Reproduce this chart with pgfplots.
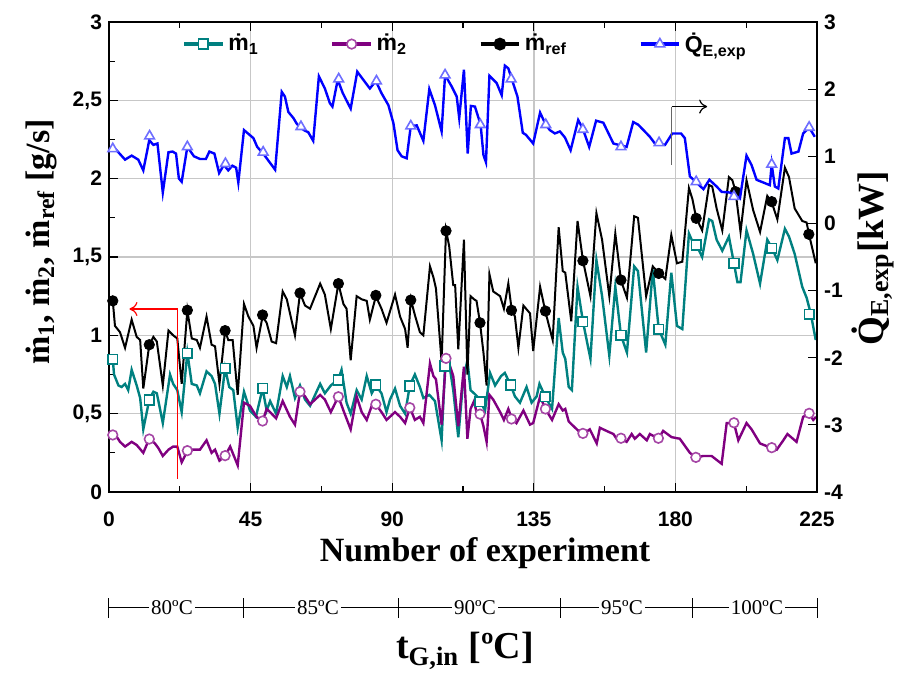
\documentclass[border=0pt]{standalone}
\usepackage{fontspec}
\setmainfont{Liberation Serif}
\setsansfont{Liberation Sans}
\usepackage{pgfplots}
\pgfplotsset{compat=1.18}
\usetikzlibrary{arrows.meta}
\definecolor{cteal}{RGB}{0,128,128}
\definecolor{cpurple}{RGB}{128,0,128}
\definecolor{cpurpleedge}{RGB}{165,70,165}
\definecolor{cblue}{RGB}{0,0,255}
\definecolor{cblueedge}{RGB}{110,110,255}
\begin{document}
\begin{tikzpicture}
\begin{axis}[
  at={(0,0)}, anchor=south west,
  scale only axis, width=354pt, height=235pt,
  xmin=0, xmax=225, ymin=0, ymax=3,
  xtick={0,45,90,135,180,225}, minor x tick num=1,
  ytick={0,0.5,1,1.5,2,2.5,3}, minor y tick num=1,
  ytick pos=left,
  grid=major, major grid style={draw=black!22, line width=0.7pt},
  axis line style={line width=0.8pt},
  tick style={black, line width=0.6pt},
  ticklabel style={font=\sffamily\bfseries\fontsize{10.5}{12}\selectfont},
  xticklabel style={yshift=-6.5pt},
  /pgf/number format/assume math mode=true,
  /pgf/number format/use comma,
]
% m1
\addplot[cteal, line width=1.2pt, mark=none] coordinates {
(1.2,0.85)(1.6,0.75)(3.0,0.68)(4.0,0.67)(5.1,0.69)(6.1,0.65)(7.2,0.78)(8.8,0.68)(9.9,0.60)(10.9,0.40)
(12.8,0.59)(14.1,0.64)(15.2,0.63)(17.1,0.44)(19.4,0.75)(20.4,0.69)(21.7,0.65)(23.1,0.51)(24.9,0.89)(26.3,0.69)
(27.9,0.68)(28.9,0.63)(31.0,0.77)(32.6,0.74)(33.7,0.69)(35.1,0.50)(36.9,0.79)(38.2,0.67)(39.5,0.65)(40.9,0.41)
(42.9,0.64)(44.8,0.52)(46.7,0.48)(48.8,0.66)(50.1,0.52)(51.2,0.58)(53.1,0.50)(55.2,0.74)(56.5,0.67)(57.5,0.74)
(59.1,0.60)(60.7,0.68)(62.3,0.59)(63.9,0.55)(67.1,0.69)(68.6,0.63)(70.5,0.68)(72.9,0.72)(73.9,0.78)(75.5,0.57)
(76.8,0.50)(78.7,0.65)(80.3,0.59)(81.9,0.74)(83.5,0.63)(84.8,0.68)(86.6,0.63)(88.2,0.51)(89.3,0.59)(90.9,0.66)
(92.5,0.55)(94.1,0.50)(95.6,0.68)(97.2,0.75)(98.8,0.67)(99.9,0.60)(101.8,0.62)(103.6,0.58)(105.7,0.33)(106.8,0.80)
(108.4,0.78)(109.4,0.65)(111.0,0.35)(112.6,0.72)(113.9,0.84)(114.9,0.65)(116.0,0.63)(117.0,0.61)(117.9,0.58)(119.5,0.52)
(121.1,0.76)(122.7,0.68)(124.6,0.74)(125.8,0.76)(127.7,0.68)(129.0,0.61)(130.6,0.57)(132.7,0.67)(134.3,0.57)(135.9,0.61)
(136.8,0.69)(138.6,0.61)(140.8,0.53)(142.9,1.11)(144.2,0.89)(145.0,0.85)(146.1,0.67)(147.1,0.65)(148.9,1.31)(150.6,1.09)
(153.0,0.85)(154.9,1.48)(156.7,1.25)(159.0,0.87)(160.9,1.31)(162.7,1.00)(164.6,0.89)(166.9,1.44)(168.1,1.41)(170.7,0.89)
(172.8,1.42)(174.7,1.04)(176.8,0.94)(178.7,1.40)(180.5,1.06)(182.2,1.04)(184.3,1.65)(185.4,1.60)(186.6,1.58)(188.5,1.50)
(190.7,1.74)(191.7,1.73)(193.1,1.61)(194.9,1.54)(197.0,1.63)(198.6,1.46)(199.7,1.34)(200.7,1.34)(202.6,1.67)(204.7,1.52)
(206.9,1.33)(209.2,1.61)(210.6,1.56)(212.4,1.48)(214.8,1.68)(216.1,1.63)(217.9,1.52)(220.3,1.31)(221.7,1.24)(223.0,1.14)
(224.6,0.97)};
\addplot[only marks, mark=square*, mark size=2.4pt, mark options={fill=white, draw=cteal, line width=0.8pt}] coordinates {
(1.2,0.847)(12.8,0.587)(24.9,0.885)(36.9,0.789)(48.8,0.662)(72.9,0.715)(84.8,0.683)(95.6,0.676)(106.8,0.804)(117.9,0.576)
(127.7,0.683)(138.7,0.608)(150.6,1.087)(162.7,1.0)(174.7,1.038)(186.6,1.576)(198.6,1.459)(210.6,1.555)(222.5,1.134)};
% m2
\addplot[cpurple, line width=1.2pt, mark=none] coordinates {
(1.2,0.36)(1.9,0.37)(3.5,0.32)(5.1,0.29)(7.2,0.32)(8.8,0.30)(10.9,0.25)(12.8,0.34)(14.6,0.31)(15.7,0.28)
(17.1,0.23)(18.9,0.27)(20.4,0.29)(21.7,0.29)(23.1,0.19)(24.9,0.26)(26.3,0.27)(28.9,0.27)(31.0,0.33)(32.6,0.25)
(33.7,0.27)(35.1,0.20)(36.9,0.23)(38.5,0.29)(40.9,0.17)(42.9,0.57)(44.8,0.55)(46.9,0.48)(48.8,0.45)(50.1,0.53)
(51.2,0.51)(53.1,0.47)(55.2,0.58)(57.5,0.48)(59.1,0.43)(60.7,0.64)(62.3,0.61)(63.9,0.56)(67.1,0.62)(68.6,0.59)
(70.5,0.51)(72.9,0.61)(74.5,0.52)(76.8,0.40)(78.7,0.61)(80.3,0.51)(81.9,0.46)(83.5,0.55)(84.8,0.56)(86.6,0.51)
(88.2,0.46)(90.9,0.51)(92.5,0.48)(94.1,0.44)(95.6,0.54)(97.2,0.46)(98.8,0.48)(99.9,0.44)(102.0,0.82)(103.1,0.74)
(103.9,0.72)(105.7,0.43)(107.1,0.85)(108.1,0.82)(109.4,0.74)(111.0,0.42)(112.8,0.80)(113.9,0.34)(114.9,0.53)(116.0,0.58)
(116.8,0.51)(117.9,0.50)(119.0,0.42)(120.0,0.32)(120.9,0.62)(122.1,0.59)(124.3,0.51)(125.5,0.46)(126.9,0.53)(128.0,0.47)
(129.5,0.44)(131.7,0.52)(133.8,0.43)(134.8,0.44)(137.0,0.61)(138.7,0.53)(140.8,0.46)(142.9,0.56)(144.2,0.52)(145.0,0.53)
(146.1,0.45)(147.1,0.43)(149.2,0.39)(150.7,0.37)(152.8,0.40)(155.0,0.31)(156.0,0.41)(158.1,0.39)(160.3,0.37)(161.3,0.34)
(162.7,0.34)(164.5,0.32)(166.1,0.37)(167.1,0.34)(168.7,0.37)(170.9,0.33)(171.9,0.37)(174.6,0.34)(176.1,0.39)(178.8,0.35)
(181.4,0.34)(184.6,0.25)(186.5,0.22)(188.9,0.23)(191.5,0.23)(194.7,0.18)(196.3,0.44)(198.6,0.44)(200.0,0.33)(202.6,0.44)
(204.2,0.40)(206.9,0.31)(210.6,0.28)(212.2,0.27)(214.3,0.33)(215.6,0.37)(218.5,0.32)(220.6,0.48)(222.5,0.50)(223.8,0.46)
(224.7,0.48)};
\addplot[only marks, mark=*, mark size=2.4pt, mark options={fill=white, draw=cpurpleedge, line width=0.8pt}] coordinates {
(1.2,0.364)(12.8,0.338)(24.9,0.264)(36.9,0.232)(48.8,0.453)(60.7,0.64)(72.9,0.608)(84.8,0.56)(95.6,0.538)(107.1,0.853)
(117.9,0.497)(127.9,0.466)(138.7,0.53)(150.6,0.374)(162.7,0.343)(174.6,0.343)(186.5,0.221)(198.6,0.442)(210.6,0.283)(222.5,0.502)};
% mref
\addplot[black, line width=1.0pt, mark=none] coordinates {
(1.2,1.22)(1.9,1.06)(3.5,1.02)(5.1,0.92)(7.2,1.10)(8.8,0.99)(9.9,0.97)(10.9,0.66)(12.8,0.94)(14.1,0.99)
(15.2,0.96)(17.1,0.68)(18.9,1.03)(20.4,1.00)(21.7,0.98)(23.1,0.69)(24.9,1.16)(26.3,0.98)(27.9,0.97)(28.9,0.92)
(31.0,1.12)(32.6,0.94)(33.7,0.93)(35.1,0.69)(36.9,1.03)(37.9,0.97)(39.3,0.97)(40.9,0.62)(42.9,1.20)(44.3,1.12)
(45.9,1.06)(46.9,0.92)(48.8,1.12)(50.1,1.08)(51.7,0.96)(53.1,0.95)(55.2,1.28)(56.5,1.23)(59.1,1.00)(60.7,1.27)
(62.3,1.19)(63.9,1.17)(67.1,1.33)(68.6,1.26)(70.5,1.04)(72.9,1.33)(74.5,1.20)(75.5,1.17)(76.8,0.84)(78.7,1.25)
(80.3,1.23)(81.9,1.22)(82.9,1.10)(84.8,1.25)(86.6,1.17)(88.2,1.08)(90.9,1.26)(92.5,1.12)(94.1,1.04)(94.9,0.92)
(95.9,1.23)(97.2,1.13)(98.8,1.02)(99.9,1.00)(102.0,1.44)(103.1,1.37)(103.9,1.30)(105.7,0.83)(107.1,1.67)(108.1,1.57)
(109.4,1.32)(110.0,1.32)(111.0,0.91)(112.8,1.61)(113.9,0.75)(114.9,1.25)(116.0,1.23)(116.8,1.22)(117.9,1.08)(119.0,0.89)
(120.0,0.68)(120.9,1.39)(122.1,1.28)(124.3,1.25)(125.5,1.17)(126.9,1.33)(128.0,1.16)(129.0,1.12)(130.1,0.92)(131.7,1.19)
(133.8,1.14)(134.8,0.90)(137.0,1.31)(138.7,1.15)(141.0,0.97)(142.9,1.69)(144.2,1.41)(145.0,1.40)(146.9,1.09)(148.9,1.73)
(150.6,1.48)(153.0,1.25)(154.9,1.78)(156.7,1.61)(159.0,1.25)(160.9,1.65)(162.7,1.35)(164.6,1.24)(166.9,1.76)(168.1,1.75)
(170.7,1.25)(172.8,1.44)(174.7,1.40)(176.8,1.36)(178.7,1.64)(180.5,1.46)(182.2,1.47)(184.3,1.94)(185.4,1.87)(186.6,1.75)
(188.5,1.67)(190.7,1.96)(191.7,1.95)(193.1,1.81)(194.9,1.67)(197.0,2.01)(198.1,1.99)(199.1,1.92)(200.7,1.66)(202.6,1.99)
(204.7,1.80)(206.9,1.66)(209.2,1.89)(210.6,1.85)(212.4,1.74)(214.8,2.07)(216.1,2.01)(217.9,1.81)(220.3,1.73)(221.7,1.72)
(222.4,1.65)(224.6,1.46)};
\addplot[only marks, mark=*, mark size=2.6pt, mark options={fill=black, draw=black}] coordinates {
(1.2,1.22)(12.8,0.94)(24.9,1.16)(36.9,1.03)(48.8,1.13)(60.7,1.27)(72.9,1.33)(84.8,1.255)(95.9,1.225)(107.1,1.667)
(117.9,1.08)(127.9,1.16)(138.7,1.155)(150.6,1.476)(162.7,1.353)(174.7,1.395)(186.6,1.747)(199.1,1.917)(210.6,1.853)(222.4,1.645)};
\draw[red, line width=0.6pt, -{To[length=4pt,width=7pt]}] (axis cs:21.7,0.083) -- (axis cs:21.7,1.168) -- (axis cs:6.5,1.168);
\end{axis}
\begin{axis}[
  at={(0,0)}, anchor=south west,
  scale only axis, width=354pt, height=235pt,
  xmin=0, xmax=225, ymin=-4, ymax=3,
  axis y line*=right, axis x line=none,
  ytick={-4,-3,-2,-1,0,1,2,3},
  axis line style={line width=0.8pt},
  tick style={black, line width=0.6pt},
  ticklabel style={font=\sffamily\bfseries\fontsize{10.5}{12}\selectfont},
  /pgf/number format/assume math mode=true,
  legend style={at={(0.505,0.953)}, anchor=center, draw=none, fill=none,
    font=\sffamily\bfseries\fontsize{11.5}{13}\selectfont,
    /tikz/every even column/.append style={column sep=34pt}},
  legend image code/.code={\draw[mark repeat=2,mark phase=2,#1] plot coordinates {(0cm,0cm) (0.34cm,0cm) (0.68cm,0cm)};},
  legend columns=4, legend cell align=left,
]
\addlegendimage{cteal, line width=1.6pt, mark=square*, mark size=2.4pt, mark options={fill=white, draw=cteal, line width=0.8pt}}
\addlegendentry{\.{m}\textsubscript{1}}
\addlegendimage{cpurple, line width=1.6pt, mark=*, mark size=2.4pt, mark options={fill=white, draw=cpurpleedge, line width=0.8pt}}
\addlegendentry{\.{m}\textsubscript{2}}
\addlegendimage{black, line width=1.6pt, mark=*, mark size=2.4pt, mark options={fill=black, draw=black}}
\addlegendentry{\.{m}\textsubscript{ref}}
\addlegendimage{cblue, line width=1.6pt, mark=triangle*, mark size=2.8pt, mark options={fill=white, draw=cblueedge, line width=0.8pt}}
\addlegendentry{\.{Q}\textsubscript{E,exp}}
\addplot[cblue, line width=1.2pt, mark=none, forget plot] coordinates {
(1.2,1.11)(2.2,1.10)(5.1,0.95)(7.2,1.01)(9.3,0.95)(10.9,0.79)(12.8,1.24)(14.1,1.17)(15.4,1.19)(17.1,0.46)
(18.9,1.06)(20.2,1.07)(21.3,1.04)(22.2,0.67)(23.1,0.62)(24.9,1.14)(27.0,1.00)(28.9,0.96)(30.8,0.96)(31.9,1.07)
(33.5,1.04)(35.0,0.75)(36.5,0.87)(37.9,0.79)(39.2,0.86)(40.4,0.83)(41.1,0.61)(42.9,1.39)(45.9,1.27)(47.1,1.14)
(49.0,1.04)(52.8,0.80)(54.9,1.96)(55.9,1.89)(57.0,1.66)(58.6,1.57)(59.6,1.49)(60.7,1.43)(62.3,1.38)(63.3,1.36)
(64.9,1.23)(66.7,2.19)(68.6,2.01)(70.2,1.79)(71.0,1.74)(72.7,2.14)(74.3,1.94)(76.8,1.71)(78.9,2.26)(80.8,2.14)
(82.9,2.01)(84.8,2.12)(86.6,1.94)(88.8,1.76)(90.4,1.49)(91.7,1.09)(93.0,1.00)(94.6,0.97)(95.9,1.45)(97.8,1.46)
(99.9,1.23)(101.8,2.00)(103.6,1.76)(105.7,1.37)(106.8,2.21)(108.9,2.04)(110.5,1.89)(111.3,1.57)(112.8,2.29)(114.0,1.04)
(115.0,1.75)(116.3,1.74)(118.1,1.47)(119.0,1.02)(119.8,0.91)(120.9,2.20)(123.2,2.09)(124.8,1.91)(125.8,2.35)(126.9,2.31)
(128.0,2.15)(129.8,1.89)(131.5,1.35)(132.5,1.32)(134.8,1.19)(137.0,1.65)(138.8,1.47)(140.1,1.39)(141.7,1.34)(143.3,1.37)
(144.9,1.28)(146.7,1.09)(149.1,1.54)(150.5,1.42)(152.6,1.14)(154.8,1.53)(157.1,1.50)(160.3,1.19)(164.5,1.14)(166.6,1.51)
(168.2,1.47)(171.9,1.29)(173.5,1.19)(176.7,1.17)(179.0,1.34)(181.8,1.34)(183.0,1.27)(184.6,0.70)(186.5,0.62)(188.9,0.51)
(190.8,0.65)(193.1,0.55)(194.7,0.47)(197.3,0.46)(200.5,0.37)(202.6,1.01)(204.2,0.87)(205.8,0.65)(210.0,0.57)(210.6,0.88)
(211.6,0.55)(212.7,0.52)(214.8,1.27)(215.9,1.27)(216.9,1.04)(219.1,1.07)(220.6,1.34)(222.5,1.43)(224.3,1.29)};
\addplot[only marks, mark=triangle*, mark size=2.8pt, mark options={fill=white, draw=cblueedge, line width=0.8pt}, forget plot] coordinates {
(1.2,1.11)(12.9,1.30)(24.9,1.14)(37,0.89)(49,1.06)(61,1.44)(73,2.15)(85,2.12)(95.9,1.45)(106.8,2.21)
(118,1.47)(127.8,2.15)(138.8,1.47)(150.6,1.40)(162.7,1.14)(174.8,1.20)(186.6,0.62)(198.6,0.40)(210.6,0.88)(222.5,1.43)};
\draw[black!60, line width=0.6pt] (axis cs:178.8,0.87) -- (axis cs:178.8,1.74);
\draw[black, line width=0.6pt, -{To[length=4pt,width=7pt]}] (axis cs:178.8,1.74) -- (axis cs:190.1,1.74);
\end{axis}
% outer labels
\node[font=\bfseries\fontsize{17}{20}\selectfont] at (188pt,-30.5pt) {Number of experiment};
\node[rotate=90, font=\bfseries\fontsize{17}{20}\selectfont] at (-34pt,125pt) {\.{m}\textsubscript{1}, \.{m}\textsubscript{2}, \.{m}\textsubscript{ref} [g/s]};
\node[rotate=90, font=\bfseries\fontsize{18.5}{21}\selectfont] at (382pt,117pt) {\.{Q}\textsubscript{E,exp}[kW]};
\draw[line width=0.5pt] (0pt,-58pt) -- (354pt,-58pt);
\foreach \x in {0,67,144.5,225.5,291.5,354} \draw[line width=0.5pt] (\x pt,-63pt) -- (\x pt,-53pt);
\foreach \x/\t in {31.5/80ºC,104.5/85ºC,183/90ºC,256.5/95ºC,324/100ºC}
  \node[fill=white, inner sep=1pt, font=\fontsize{10.5}{12}\selectfont] at (\x pt,-58pt) {\t};
\node[font=\bfseries\fontsize{19}{22}\selectfont] at (178pt,-79.5pt) {t\textsubscript{G,in} [ºC]};
\pgfresetboundingbox
\path[use as bounding box] (-54.5pt,-90.5pt) rectangle (395.5pt,246pt);
\end{tikzpicture}
\end{document}
